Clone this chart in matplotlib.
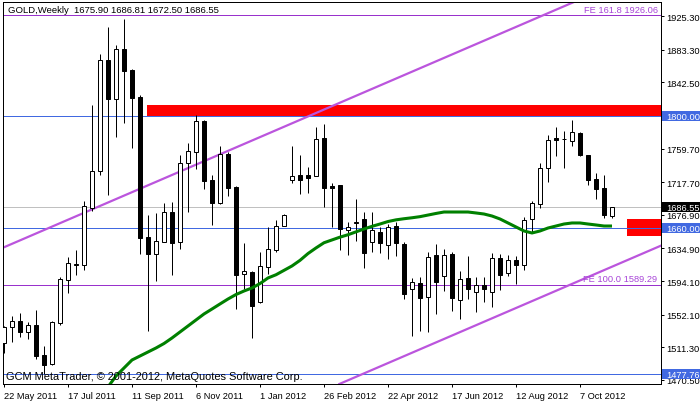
import matplotlib
matplotlib.use("Agg")
import matplotlib.pyplot as plt
import matplotlib.transforms as mtransforms
from matplotlib.patches import Rectangle

plt.rcParams['font.family'] = ['Liberation Sans', 'DejaVu Sans']

# ---------------- data ----------------
title_text = "GOLD,Weekly  1675.90 1686.81 1672.50 1686.55"
copyright_text = "GCM MetaTrader, \u00a9 2001-2012, MetaQuotes Software Corp."

opens = [1516.7, 1536.3, 1543.8, 1530.1, 1539.2, 1501.7, 1490.1, 1541.3, 1595.9, 1614.8,
         1614.6, 1685.4, 1732.1, 1870.3, 1821.6, 1884.1, 1857.8, 1823.7, 1648.8, 1628.0,
         1643.3, 1680.8, 1642.5, 1741.2, 1755.0, 1793.7, 1720.0, 1691.7, 1752.9, 1711.2,
         1602.5, 1605.0, 1567.6, 1612.1, 1633.4, 1662.5, 1720.8, 1726.7, 1726.7, 1725.8,
         1772.5, 1712.5, 1713.7, 1657.5, 1667.0, 1671.7, 1642.5, 1655.0, 1639.6, 1662.9,
         1640.4, 1583.8, 1591.3, 1573.8, 1626.7, 1600.9, 1627.9, 1570.9, 1598.0, 1580.1,
         1589.2, 1580.1, 1622.5, 1603.8, 1620.5, 1614.6, 1671.3, 1690.8, 1735.0, 1772.5,
         1771.2, 1769.5, 1779.5, 1751.6, 1721.7, 1710.4, 1675.90]
highs = [1538.0, 1550.9, 1553.8, 1542.6, 1558.0, 1513.4, 1544.6, 1598.8, 1624.6, 1632.9,
         1693.7, 1814.1, 1877.8, 1912.0, 1889.1, 1921.0, 1858.5, 1826.6, 1676.7, 1679.2,
         1691.7, 1693.3, 1751.6, 1766.6, 1802.0, 1795.0, 1727.1, 1763.3, 1755.8, 1712.5,
         1641.7, 1607.1, 1630.0, 1661.3, 1670.4, 1677.5, 1762.5, 1751.6, 1736.2, 1786.2,
         1790.4, 1716.2, 1714.5, 1668.3, 1696.7, 1680.0, 1680.0, 1662.1, 1665.8, 1668.3,
         1642.5, 1598.0, 1598.8, 1630.0, 1640.4, 1634.2, 1630.9, 1606.7, 1625.9, 1598.8,
         1598.8, 1629.2, 1628.0, 1626.7, 1625.9, 1674.6, 1694.6, 1741.6, 1776.6, 1786.2,
         1782.0, 1795.4, 1780.0, 1752.0, 1729.2, 1726.7, 1686.81]
lows = [1503.8, 1518.4, 1524.7, 1521.7, 1496.8, 1478.0, 1489.7, 1539.2, 1579.2, 1601.7,
        1608.4, 1681.3, 1727.1, 1701.7, 1774.5, 1791.6, 1760.4, 1628.0, 1532.2, 1594.6,
        1643.0, 1601.7, 1634.2, 1680.8, 1734.1, 1709.2, 1664.2, 1690.4, 1700.9, 1559.2,
        1584.2, 1522.6, 1566.3, 1603.0, 1630.0, 1662.5, 1716.7, 1702.9, 1704.6, 1725.0,
        1687.1, 1662.1, 1632.9, 1627.1, 1644.6, 1610.5, 1630.9, 1628.8, 1621.7, 1625.9,
        1571.7, 1525.9, 1532.2, 1530.9, 1553.0, 1582.1, 1557.1, 1546.7, 1571.7, 1555.1,
        1567.6, 1562.1, 1583.4, 1600.9, 1590.5, 1608.0, 1655.0, 1685.0, 1717.5, 1750.8,
        1735.4, 1762.5, 1750.8, 1714.6, 1696.7, 1673.3, 1672.50]
closes = [1536.3, 1544.6, 1530.1, 1539.2, 1500.9, 1489.7, 1542.6, 1596.7, 1616.3, 1615.2,
          1687.5, 1732.1, 1870.3, 1821.6, 1884.1, 1857.0, 1822.8, 1647.9, 1628.0, 1643.8,
          1680.0, 1641.7, 1741.2, 1756.2, 1793.7, 1719.6, 1691.7, 1752.9, 1710.4, 1602.1,
          1606.3, 1563.4, 1612.5, 1633.8, 1662.5, 1676.3, 1725.0, 1720.8, 1722.5, 1771.6,
          1710.8, 1710.8, 1658.8, 1661.3, 1667.8, 1629.6, 1657.9, 1642.1, 1662.1, 1641.3,
          1578.4, 1592.5, 1572.6, 1623.8, 1592.5, 1626.7, 1572.6, 1596.7, 1583.8, 1589.2,
          1583.8, 1622.5, 1602.1, 1620.5, 1614.6, 1670.4, 1691.7, 1735.0, 1770.4, 1770.8,
          1771.8, 1780.4, 1751.6, 1720.8, 1709.2, 1676.7, 1686.55]

# moving average, starting at bar index 13
ma_first_bar = 13
ma_values = [1461.8, 1475.5, 1485.5, 1495.5, 1500.5, 1505.5, 1510.5, 1516.1, 1523.0, 1530.5,
             1538.0, 1545.5, 1553.0, 1559.2, 1565.5, 1571.7, 1577.3, 1581.7, 1585.5, 1591.0,
             1598.0, 1602.0, 1607.5, 1613.0, 1620.0, 1628.5, 1635.5, 1642.0, 1645.5, 1649.0,
             1652.0, 1655.6, 1659.2, 1662.5, 1665.4, 1668.5, 1670.6, 1672.0, 1673.2, 1674.6,
             1676.6, 1678.6, 1680.4, 1680.4, 1680.4, 1680.4, 1679.2, 1677.9, 1675.4, 1671.7,
             1666.7, 1661.7, 1656.7, 1654.2, 1656.7, 1660.4, 1662.9, 1665.4, 1666.7, 1666.7,
             1665.4, 1664.2, 1662.9, 1662.9]

date_labels = ["22 May 2011", "17 Jul 2011", "11 Sep 2011", "6 Nov 2011", "1 Jan 2012",
               "26 Feb 2012", "22 Apr 2012", "17 Jun 2012", "12 Aug 2012", "7 Oct 2012"]
date_label_bars = [0, 8, 16, 24, 32, 40, 48, 56, 64, 72]

price_ticks = [1925.30, 1883.30, 1842.50, 1800.50, 1759.70, 1717.70,
               1676.90, 1634.90, 1594.10, 1552.10, 1511.30, 1470.50]

blue_levels = [1800.00, 1660.00, 1477.76]
bid_price = 1686.55
fe_levels = [1926.06, 1589.29]
fe_labels = ["FE 161.8 1926.06", "FE 100.0 1589.29"]

# supply/demand zones: start bar, low price, high price
zone_start = [17.9, 77.9]
zone_low = [1798.7, 1650.4]
zone_high = [1814.1, 1671.7]

# trend channel anchor points (bar, price)
upper_line = [(-0.5, 1634.2), (69.5, 1935.3)]
lower_line = [(54.5, 1519.6), (79.5, 1627.1)]

# ---------------- figure ----------------
W, H = 700, 402
fig = plt.figure(figsize=(W / 100, H / 100), dpi=100)
fig.patch.set_facecolor('white')
ax_l, ax_r, ax_t, ax_b = 2.5, 660.7, 3.0, 385.0
ax = fig.add_axes([ax_l / W, 1 - ax_b / H, (ax_r - ax_l) / W, (ax_b - ax_t) / H])
ax.set_facecolor('white')

x_left = (ax_l - 4) / 8
x_right = (ax_r - 4) / 8
ax.set_xlim(x_left, x_right)
ax.set_ylim(1465.5, 1942.8)

px = 0.72  # one pixel in points

# horizontal lines
for lv in blue_levels:
    ax.axhline(lv, color='#4169E1', lw=px, zorder=2)
ax.axhline(bid_price, color='#C0C0C0', lw=px, zorder=1.5)
for lv, lab in zip(fe_levels, fe_labels):
    ax.axhline(lv, color='#9932CC', lw=px, zorder=2)
    ax.annotate(lab, xy=(81.7, lv), xytext=(0, 1.2), textcoords='offset points',
                ha='right', va='bottom', fontsize=6.7, color='#A845D8', zorder=6)

# zones
for xs, lo, hi in zip(zone_start, zone_low, zone_high):
    ax.add_patch(Rectangle((xs, lo), x_right + 1 - xs, hi - lo, facecolor='#FF0000',
                           edgecolor='none', zorder=1.8))

# channel lines
ax.axline(upper_line[0], upper_line[1], color='#BB55DD', lw=1.6, zorder=2.2)
ax.axline(lower_line[0], lower_line[1], color='#BB55DD', lw=1.6, zorder=2.2)

# candles
n = len(opens)
for i in range(n):
    o, h, l, c = opens[i], highs[i], lows[i], closes[i]
    ax.vlines(i, l, h, color='black', lw=px, zorder=3)
    bottom = min(o, c)
    height = max(abs(c - o), 0.6)
    if c >= o:
        ax.bar(i, height, width=0.6, bottom=bottom, facecolor='white',
               edgecolor='black', linewidth=px, zorder=3.5)
    else:
        ax.bar(i, height, width=0.6, bottom=bottom, facecolor='black',
               edgecolor='black', linewidth=px, zorder=3.5)

# moving average
ma_x = list(range(ma_first_bar, ma_first_bar + len(ma_values)))
ax.plot(ma_x, ma_values, color='#008000', lw=2.2, zorder=4, solid_capstyle='butt')

# axes styling
for s in ax.spines.values():
    s.set_color('black')
    s.set_linewidth(px)
ax.yaxis.tick_right()
ax.set_yticks(price_ticks)
ax.set_yticklabels([f"{v:.2f}" for v in price_ticks])
ax.tick_params(axis='y', right=True, left=False, length=2.5, width=px, pad=1.8,
               labelsize=6.7, colors='black')
ax.set_xticks(date_label_bars)
ax.set_xticklabels(date_labels)
for t in ax.get_xticklabels():
    t.set_horizontalalignment('left')
ax.tick_params(axis='x', length=2.5, width=px, pad=2.2, labelsize=6.7, colors='black')

# right axis price boxes
blend = mtransforms.blended_transform_factory(fig.transFigure, ax.transData)
box_h = 12.3
def price_box(price, bg, text):
    ax.add_patch(Rectangle((661.5 / W, price - box_h / 2), (W - 661.5) / W, box_h,
                           transform=blend, facecolor=bg, edgecolor='none',
                           clip_on=False, zorder=10))
    ax.text(666.5 / W, price, text, transform=blend, color='white', fontsize=6.7,
            va='center', ha='left', clip_on=False, zorder=11)

for lv in blue_levels:
    price_box(lv, '#4169E1', f"{lv:.2f}")
price_box(bid_price, 'black', f"{bid_price:.2f}")

# texts
fig.text(7.5 / W, 1 - 10.5 / H, title_text, fontsize=6.8, va='center', ha='left', color='black')
fig.text(6 / W, 1 - 377 / H, copyright_text, fontsize=7.9, va='center', ha='left', color='black',
         zorder=20)

fig.savefig('out.png', dpi=100, facecolor='white')
